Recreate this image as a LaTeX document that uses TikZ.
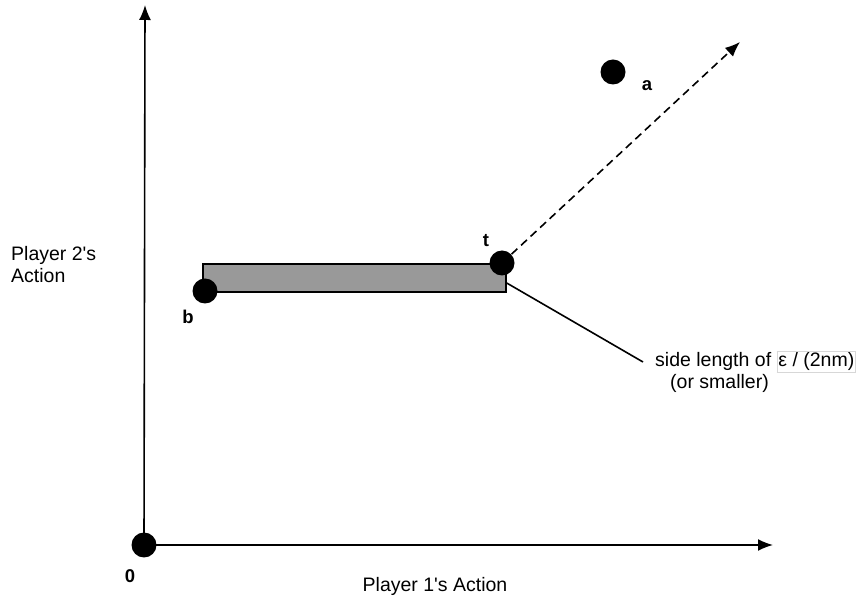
\documentclass[tikz,border=0pt]{standalone}
\usepackage{fontspec}
\setmainfont{Liberation Sans}
\usetikzlibrary{arrows.meta,calc}
\definecolor{boxgray}{RGB}{153,153,153}
\definecolor{framegray}{RGB}{215,215,215}
\begin{document}
\begin{tikzpicture}[x=1pt,y=-1pt,
  dot/.style={circle,fill=black,minimum size=25pt,inner sep=0pt},
  lbl/.style={font=\fontsize{18.5}{20}\selectfont\bfseries,inner sep=0pt,anchor=base},
  txt/.style={font=\fontsize{19.5}{22}\selectfont,inner sep=0pt},
  tip/.style={-{Latex[length=15pt,width=12pt]}},
  axis/.style={line width=1.6pt,tip}]
\useasboundingbox (0,0) rectangle (863,601);
% shaded strip
\node (strip) [draw=black,line width=1.4pt,fill=boxgray,minimum width=303pt,minimum height=28pt,inner sep=0pt] at (354.5,278) {};
% dots
\node (b) [dot] at (205,291) {};
\node (t) [dot] at (502,263) {};
\node (a) [dot] at (613,72) {};
% axes
\coordinate (oc) at (144,545);
\coordinate (ytip) at (145,5);
\coordinate (xtip) at (773,545);
\draw[axis] (oc) -- (ytip);
\draw[axis] (oc) -- (xtip);
\node (o) [dot] at (oc) {};
% dashed direction
\coordinate (dtip) at (740,42);
\draw[line width=1.6pt,dash pattern=on 8pt off 5pt,tip] (t.center) -- (dtip);
% leader line
\coordinate (lend) at (643,362);
\draw[line width=1.6pt] ($(strip.east)+(0,5)$) -- (lend);
% labels
\node[lbl] (l0) at (130,583) {0};
\node[lbl] (lb) at (188,324) {b};
\node[lbl] (lt) at (486,247) {t};
\node[lbl] (la) at (647,91) {a};
% texts
\node[txt,anchor=base west] (s1) at (655,367) {side length of {\setlength{\fboxsep}{1pt}\setlength{\fboxrule}{0.8pt}\fcolorbox{framegray}{white}{ε / (2nm)}}};
\node[txt,anchor=base west] (s2) at (670,389) {(or smaller)};
\node[txt,anchor=base west] (p2a) at (11,261) {Player 2\textquotesingle s};
\node[txt,anchor=base west] (p2b) at (11,283) {Action};
\node[txt,anchor=base] (p1) at (435,591) {Player 1\textquotesingle s Action};
\end{tikzpicture}
\end{document}
